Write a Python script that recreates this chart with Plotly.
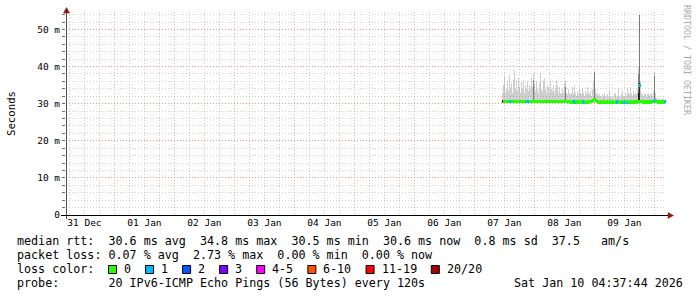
import plotly.graph_objects as go
import pandas as pd

# ---------------- data ----------------
series_start = "2026-01-07 11:24"      # first 24-min step with data
step_minutes = 24

median_ms = [
    30.5, 30.5, 30.6, 30.5, 30.5, 30.6, 30.5, 30.5, 30.6, 30.5,
    30.5, 30.6, 30.5, 30.5, 30.6, 30.6, 30.5, 30.5, 30.6, 30.5,
    30.5, 30.6, 30.5, 30.5, 30.6, 30.5, 30.5, 30.6, 30.5, 30.5,
    30.6, 30.8, 30.6, 30.5, 30.5, 30.6, 30.5, 30.5, 30.6, 30.5,
    30.5, 30.6, 30.5, 30.5, 30.6, 30.5, 30.5, 30.6, 30.5, 30.5,
    30.6, 30.5, 30.5, 30.6, 30.5, 30.5, 30.6, 30.5, 30.5, 30.6,
    30.5, 30.5, 30.6, 30.5, 30.5, 30.6, 30.5, 30.4, 30.4, 30.5,
    30.4, 30.5, 30.4, 30.5, 30.4, 30.5, 30.4, 30.4, 30.5, 30.4,
    30.5, 30.4, 30.5, 30.4, 30.4, 30.5, 30.4, 30.5, 30.6, 30.7,
    30.8, 31.0, 31.0, 30.8, 30.6, 30.5, 30.4, 30.4, 30.5, 30.4,
    30.4, 30.5, 30.4, 30.4, 30.5, 30.4, 30.4, 30.5, 30.4, 30.4,
    30.5, 30.4, 30.4, 30.5, 30.4, 30.5, 30.4, 30.4, 30.5, 30.4,
    30.4, 30.5, 30.4, 30.5, 30.4, 30.4, 30.5, 30.4, 30.5, 30.4,
    30.4, 30.5, 30.4, 30.5, 30.4, 30.5, 30.6, 35.0, 30.6, 30.5,
    30.4, 30.5, 30.4, 30.5, 30.4, 30.5, 30.4, 30.5, 30.4, 30.5,
    30.5, 30.6, 30.8, 30.6, 30.5, 30.4, 30.5, 30.4, 30.5, 30.4,
    30.5, 30.4, 30.5,
]

smoke_max_ms = [
    33, 35, 37.5, 33, 34, 36, 33.5, 37.8, 34, 35.5,
    33, 36.5, 39, 34, 36, 33.5, 37, 34.5, 33, 35.8,
    34, 36.5, 33, 35, 34, 36, 33.5, 35, 34, 36.8,
    34.5, 38, 35, 33.5, 36, 34, 33, 35.5, 38.3, 34,
    33.5, 36, 37, 34, 33, 35, 34.5, 33, 36, 34,
    33.5, 35, 33, 34, 36.5, 35, 33, 34.5, 33, 32.5,
    34, 33, 35.5, 36.5, 33, 32.5, 34, 33,
    32.5, 33, 34.5, 32.5, 35, 33, 32, 33.5, 32.5, 34,
    33, 32.5, 34, 33, 32, 33.5, 32.5, 34.5, 33, 32.5,
    33.5, 32, 34, 36, 38.8, 34, 32.5, 33, 32, 32.5,
    32, 31.5, 32.5, 31.8, 33, 32, 31.5, 32.5, 31.8, 33.5,
    32, 31.5, 32, 31.5, 32.5, 33, 31.8, 32, 34, 32,
    31.5, 32.5, 33.5, 32, 31.8, 33, 32, 34, 33, 32.5,
    34.5, 33, 32, 33.5, 32.5, 33, 32.5, 34, 40, 54,
    36, 33, 32.5, 32, 33, 32.5, 31.8, 32.5, 33, 32,
    32.5, 33, 32, 33.5, 38.5, 33, 31.5, 31.2, 31.5, 31,
    31.3, 31, 31.5, 31.2, 31,
]

# step index -> upper edge of the denser smoke band (ms)
smoke_dense_top = {31: 36.5, 63: 34.5, 92: 38.5, 136: 38, 137: 54, 152: 37.5}
# step index -> upper edge of the darkest smoke core (ms)
smoke_core_top = {136: 33, 137: 35.5}

# step index -> lost pings (out of 20); others are 0
loss_count = {0: 20, 7: 1, 8: 1, 24: 1, 25: 1, 26: 1, 71: 1, 72: 1, 80: 1, 81: 1,
              114: 1, 115: 1, 120: 1, 122: 1, 125: 1, 137: 1, 150: 1, 152: 1, 162: 1}

loss_labels = ["0", "1", "2", "3", "4-5", "6-10", "11-19", "20/20"]
loss_colors = ["#26ff00", "#00b8ff", "#0059ff", "#7e00ff", "#ff00ff", "#ff5500", "#ff0000", "#a10000"]

ytick_vals = [0, 10, 20, 30, 40, 50]
ytick_text = ["0", "10 m", "20 m", "30 m", "40 m", "50 m"]

view_start = "2025-12-31 04:37:44"
view_end = "2026-01-10 04:37:44"
y_top = 54.7

legend_lines = [
    "median rtt:  30.6 ms avg  34.8 ms max  30.5 ms min  30.6 ms now  0.8 ms sd  37.5   am/s",
    "packet loss: 0.07 % avg  2.73 % max  0.00 % min  0.00 % now",
]
loss_caption = "loss color:"
probe_line = "probe:       20 IPv6-ICMP Echo Pings (56 Bytes) every 120s"
stamp = "Sat Jan 10 04:37:44 2026"
watermark = "RRDTOOL / TOBI OETIKER"
y_title = "Seconds"

# ---------------- build ----------------
W, H = 697, 297
L, R, T, B = 66, 31, 12, 82
PW, PH = W - L - R, H - T - B


def px2x(px):
    return (px - L) / PW


def px2y(py):
    return (T + PH - py) / PH


n = len(median_ms)
times = pd.date_range(series_start, periods=n, freq=f"{step_minutes}min")
bw = step_minutes * 60 * 1000


def loss_color(c):
    if c <= 0:
        return loss_colors[0]
    if c == 1:
        return loss_colors[1]
    if c == 2:
        return loss_colors[2]
    if c == 3:
        return loss_colors[3]
    if c <= 5:
        return loss_colors[4]
    if c <= 10:
        return loss_colors[5]
    if c <= 19:
        return loss_colors[6]
    return loss_colors[7]


fig = go.Figure()

# outer smoke
fig.add_trace(go.Bar(
    x=times, base=median_ms,
    y=[max(0, hi - m) for hi, m in zip(smoke_max_ms, median_ms)],
    width=bw, marker=dict(color="rgba(110,110,110,0.33)", line=dict(width=0)),
    hoverinfo="skip", showlegend=False))

# denser smoke
d_idx = sorted(smoke_dense_top)
fig.add_trace(go.Bar(
    x=[times[i] for i in d_idx], base=[median_ms[i] for i in d_idx],
    y=[smoke_dense_top[i] - median_ms[i] for i in d_idx],
    width=bw, marker=dict(color="rgba(60,60,60,0.55)", line=dict(width=0)),
    hoverinfo="skip", showlegend=False))

c_idx = sorted(smoke_core_top)
fig.add_trace(go.Bar(
    x=[times[i] for i in c_idx], base=[30.3 for i in c_idx],
    y=[smoke_core_top[i] - 30.3 for i in c_idx],
    width=bw, marker=dict(color="rgba(20,20,20,0.9)", line=dict(width=0)),
    hoverinfo="skip", showlegend=False))

# median line coloured by loss
fig.add_trace(go.Bar(
    x=times, base=[m - 0.4 for m in median_ms], y=[0.8] * n,
    width=bw,
    marker=dict(color=[loss_color(loss_count.get(i, 0)) for i in range(n)], line=dict(width=0)),
    hoverinfo="skip", showlegend=False))

mono = "DejaVu Sans Mono"
red_grid = "rgba(240,110,110,0.55)"
grey_grid = "rgba(175,175,175,0.6)"

fig.update_layout(
    width=W, height=H, margin=dict(l=L, r=R, t=T, b=B),
    paper_bgcolor="white", plot_bgcolor="white",
    barmode="overlay", bargap=0,
    font=dict(family=mono, color="black", size=9.5),
    xaxis=dict(
        type="date", range=[view_start, view_end],
        tick0="2026-01-01", dtick=86400000, ticklabelmode="period",
        tickformat="%d %b", ticks="", showline=False, zeroline=False,
        showgrid=True, gridcolor=red_grid, griddash="1px,2px", gridwidth=1,
        tickfont=dict(family=mono, size=9.5, color="black"),
        minor=dict(dtick=21600000, tick0="2026-01-01", showgrid=True,
                   gridcolor=grey_grid, griddash="1px,2px", gridwidth=1),
        fixedrange=True,
    ),
    yaxis=dict(
        range=[0, y_top], tickvals=ytick_vals, ticktext=ytick_text,
        ticks="outside", ticklen=3, tickcolor="#707070", showline=False, zeroline=False,
        showgrid=True, gridcolor=red_grid, griddash="1px,2px", gridwidth=1,
        tickfont=dict(family=mono, size=9.5, color="black"),
        minor=dict(dtick=2, tick0=0, showgrid=True, gridcolor=grey_grid,
                   griddash="1px,2px", gridwidth=1, ticks="outside", ticklen=3,
                   tickcolor="#707070"),
        fixedrange=True,
    ),
)

shapes = []
# y axis line + arrow
shapes.append(dict(type="line", xref="paper", yref="paper",
                   x0=px2x(66.5), x1=px2x(66.5), y0=px2y(219), y1=px2y(11),
                   line=dict(color="#505050", width=1)))
shapes.append(dict(type="path", xref="paper", yref="paper",
                   path=f"M {px2x(63.5)},{px2y(13)} L {px2x(69.5)},{px2y(13)} L {px2x(66.5)},{px2y(7.5)} Z",
                   fillcolor="#8b1a1a", line=dict(color="#8b1a1a", width=0.5)))
# x axis line + arrow
shapes.append(dict(type="line", xref="paper", yref="paper",
                   x0=px2x(61), x1=px2x(669), y0=px2y(215.5), y1=px2y(215.5),
                   line=dict(color="black", width=1)))
shapes.append(dict(type="path", xref="paper", yref="paper",
                   path=f"M {px2x(668)},{px2y(212.5)} L {px2x(668)},{px2y(218.5)} L {px2x(673.5)},{px2y(215.5)} Z",
                   fillcolor="#8b1a1a", line=dict(color="#8b1a1a", width=0.5)))

annotations = []
FS = 11.7
CW = 7.05
line_y = [241, 255, 269, 283]
text_x = 16


def add_text(txt, px, py, anchor="left", size=FS, color="black", angle=0):
    annotations.append(dict(text=txt, xref="paper", yref="paper",
                            x=px2x(px), y=px2y(py), xanchor=anchor, yanchor="middle",
                            showarrow=False, borderpad=0,
                            font=dict(family=mono, size=size, color=color),
                            textangle=angle))


add_text(legend_lines[0].replace(" ", "\u00a0"), text_x, line_y[0])
add_text(legend_lines[1].replace(" ", "\u00a0"), text_x, line_y[1])
add_text(loss_caption.replace(" ", "\u00a0"), text_x, line_y[2])
add_text(probe_line.replace(" ", "\u00a0"), text_x, line_y[3])
add_text(stamp.replace(" ", "\u00a0"), 513, line_y[3])

sq = 108
for lab, col in zip(loss_labels, loss_colors):
    shapes.append(dict(type="rect", xref="paper", yref="paper",
                       x0=px2x(sq + 0.5), x1=px2x(sq + 8.5), y0=px2y(273.5), y1=px2y(265.5),
                       fillcolor=col, line=dict(color="black", width=1)))
    add_text(lab, sq + 15, line_y[2])
    sq = sq + 30 + CW * len(lab)

add_text(y_title, 11, 114, anchor="center", size=10.7, angle=-90)
add_text(watermark.replace(" ", "\u00a0"), 687, 60, anchor="center", size=8.3,
         color="#a8a8a8", angle=90)

fig.update_layout(shapes=shapes, annotations=annotations)
fig.write_html("out.html")
